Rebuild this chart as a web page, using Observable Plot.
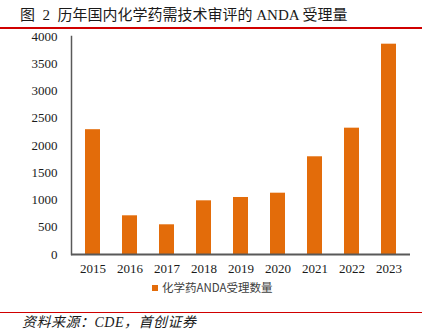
<!DOCTYPE html>
<html>
<head>
<meta charset="utf-8">
<script src="https://cdn.jsdelivr.net/npm/d3@7"></script>
<script src="https://cdn.jsdelivr.net/npm/@observablehq/plot@0.6"></script>
<style>
  html, body { margin: 0; padding: 0; background: #fff; }
  #wrap { position: relative; width: 427px; height: 334px; overflow: hidden; }
  .title { position: absolute; left: 20px; top: 5px; font-family: "Liberation Serif", "Noto Sans CJK SC", serif; font-size: 15px; color: #1a1a1a; white-space: pre; line-height: 20px; }
  .rule { position: absolute; left: 0; width: 422px; height: 1.5px; background: #d00000; }
  #chart { position: absolute; left: 0; top: 28px; }
  .legend { position: absolute; left: 152px; top: 279px; font-family: "Noto Sans CJK SC", sans-serif; font-size: 11.5px; color: #404040; white-space: nowrap; line-height: 16px; }
  .legend .sw { display: inline-block; width: 6px; height: 6px; background: #E36C0A; margin-right: 4px; vertical-align: 1px; }
  .source { position: absolute; left: 22px; top: 313px; font-family: "Liberation Serif", "Noto Sans CJK SC", serif; font-style: italic; font-size: 14px; color: #1a1a1a; white-space: nowrap; line-height: 20px; letter-spacing: 0.5px; }
</style>
</head>
<body>
<div id="wrap">
  <div class="title">图  2  历年国内化学药需技术审评的 ANDA 受理量</div>
  <div class="rule" style="top:27px"></div>
  <div id="chart"></div>
  <div class="legend"><span class="sw"></span>化学药ANDA受理数量</div>
  <div class="rule" style="top:311.5px"></div>
  <div class="source">资料来源：CDE，首创证券</div>
</div>
<script>
const years = ["2015", "2016", "2017", "2018", "2019", "2020", "2021", "2022", "2023"];
const counts = [2290, 710, 545, 985, 1046, 1125, 1793, 2318, 3859];
const yTicks = [0, 500, 1000, 1500, 2000, 2500, 3000, 3500, 4000];

const data = years.map((y, i) => ({year: y, value: counts[i]}));

const chart = Plot.plot({
  width: 427,
  height: 250,
  marginTop: 8,
  marginBottom: 24,
  marginLeft: 71,
  marginRight: 17,
  style: {fontFamily: "'Liberation Serif', serif", fontSize: "13px", color: "#1a1a1a", background: "transparent"},
  x: {domain: years, paddingInner: 0.6, paddingOuter: 0.3},
  y: {domain: [0, 4000]},
  marks: [
    Plot.barY(data, {x: "year", y: "value", fill: "#E36C0A"}),
    Plot.axisY({ticks: yTicks, tickFormat: d => String(d), tickSize: 0, tickPadding: 14, label: null, fontSize: 13}),
    Plot.axisX({tickSize: 0, tickPadding: 9, label: null, fontSize: 13}),
    Plot.frame({anchor: "left", stroke: "#595959", strokeWidth: 1.5}),
    Plot.ruleY([0], {stroke: "#595959", strokeWidth: 1.8})
  ]
});
document.getElementById("chart").appendChild(chart);
</script>
</body>
</html>
